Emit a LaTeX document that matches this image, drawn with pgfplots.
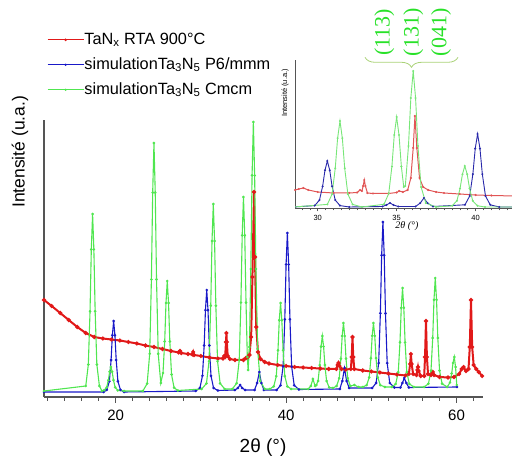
\documentclass[border=0pt]{standalone}
\usepackage{pgfplots}
\pgfplotsset{compat=1.18}
\usepackage{fontspec}
\setmainfont{Liberation Sans}
\newfontfamily\seriffont{Liberation Serif}
\usetikzlibrary{decorations.pathreplacing}
\definecolor{cred}{RGB}{225,25,25}
\definecolor{cblue}{RGB}{25,25,200}
\definecolor{cgreen}{RGB}{80,230,80}
\definecolor{ired}{RGB}{225,85,85}
\definecolor{iblue}{RGB}{40,40,170}
\definecolor{igreen}{RGB}{120,230,120}
\definecolor{axisgray}{RGB}{85,85,85}
\definecolor{annot}{RGB}{40,225,40}
\definecolor{bracec}{RGB}{170,210,120}
\begin{document}
\begin{tikzpicture}
\useasboundingbox (0,0) rectangle (512pt,458pt);
\begin{axis}[
  at={(44pt,61pt)}, anchor=south west,
  scale only axis, width=439pt, height=277pt,
  xmin=11.6, xmax=63.1, ymin=0, ymax=277,
  axis lines=left, axis line style={-, draw=axisgray, line width=1.1pt},
  ytick=\empty,
  xtick={20,40,60}, minor xtick={12,14,...,62},
  tick align=outside, major tick length=6pt, minor tick length=4pt,
  every tick/.style={axisgray, line width=0.8pt},
  tick label style={font=\fontsize{15}{18}\selectfont},
  xticklabel style={yshift=-3pt},
  /pgf/number format/assume math mode=true,
  xlabel={2θ (°)},
  xlabel style={font=\fontsize{19}{22}\selectfont, at={(axis description cs:0.499,-0.184)}, anchor=center},
  ylabel={Intensité (u.a.)},
  ylabel style={font=\fontsize{17.5}{20}\selectfont, at={(axis description cs:-0.0547,0.885)}, anchor=center},
  legend style={draw=none, fill=none, at={(axis description cs:0,1.329)}, anchor=north west,
    font=\fontsize{16.3}{19}\selectfont, row sep=7.5pt,
    nodes={inner sep=0.5pt, text height=12.5pt, text depth=4pt},
    /tikz/column 2/.style={column sep=0pt}},
  legend cell align=left,
  legend image code/.code={\draw[mark repeat=2, mark phase=2] plot coordinates {(0pt,0pt) (18pt,0pt) (36pt,0pt)};},
]
\addplot[cred, line width=2pt, mark=*, mark size=0.9pt, legend image post style={line width=0.8pt}] coordinates {
(11.6,97) (12.5,91) (13.5,84) (14.5,77) (15.5,70) (16.5,64) (17.5,60) (18.5,58.5) (19.5,57.5) (20.5,56.5) (21.5,55) (22.5,53.5) (23.5,51.5) (24.5,50) (25.5,48) (26.5,46) (27.4,44.5) (27.55,46) (27.7,44) (28.5,43) (29.0,42.5) (29.1,45) (29.2,42) (30,41) (31,39.5) (32,38.5) (32.6,38.5) (32.75,41) (32.85,40) (32.95,55) (33.0,64) (33.05,55) (33.15,41) (33.4,38) (34,37) (35,37) (35.3,39) (35.5,40) (35.7,42) (35.9,60) (36.05,120) (36.24,205) (36.35,140) (36.5,70) (36.7,45) (37,38) (37.5,35) (38,33.5) (39,32) (40,31) (41,30) (42,29.5) (43,29) (44,28.5) (45,28) (45.9,28) (46.05,32) (46.15,34) (46.25,31) (46.5,28) (47,27.5) (47.6,28) (47.7,40) (47.79,60) (47.88,40) (48,28) (49,26.5) (50,25.5) (51,24.5) (52,23.5) (53,22.5) (54,21.5) (54.4,23) (54.55,33) (54.64,43) (54.73,33) (54.9,23) (55.3,22) (55.4,27) (55.47,30) (55.55,26) (55.8,21) (56.2,21) (56.3,40) (56.41,76) (56.52,40) (56.65,23) (57,22) (57.2,25) (57.35,22) (58,20) (59,19.5) (59.7,20) (60.3,23) (60.6,28) (60.82,30) (61.1,26) (61.4,28) (61.55,50) (61.69,97) (61.83,50) (62.0,32) (62.3,28) (62.6,25) (63,21)
};
\addlegendentry{TaN\textsubscript{x} RTA 900°C}
\addplot[cblue, line width=1.1pt, mark=*, mark size=0.7pt, legend image post style={line width=0.8pt}] coordinates {
(11.6,5) (18.6,5) (18.97,7.1) (19.27,15.7) (19.47,37) (19.62,61.8) (19.77,76) (19.92,61.8) (20.07,37) (20.27,15.7) (20.57,7.1) (21,5) (29.4,6) (29.89,9) (30.19,21.2) (30.39,51.5) (30.54,86.8) (30.69,107) (30.84,86.8) (30.99,51.5) (31.19,21.2) (31.49,9) (32,6.5) (34.0,7) (34.35,9) (34.6,12) (34.85,9) (35.2,7) (36.3,7) (36.6,14) (36.86,25) (37.1,14) (37.4,7) (38.9,7) (39.35,11.7) (39.65,30.6) (39.85,77.7) (40.0,132.6) (40.15,164) (40.3,132.6) (40.45,77.7) (40.65,30.6) (40.95,11.7) (41.5,7.5) (46.3,8) (46.6,16) (46.85,29) (47.1,16) (47.4,9) (50.1,9) (50.56,14) (50.86,33.9) (51.06,83.7) (51.21,141.8) (51.36,175) (51.51,141.8) (51.66,83.7) (51.86,33.9) (52.16,14) (52.7,9.5) (53.4,9.5) (53.65,14) (53.86,19) (54.1,14) (54.4,9.5) (60.05,10)
};
\addlegendentry{simulationTa\textsubscript{3}N\textsubscript{5} P6/mmm}
\addplot[cgreen, line width=1.1pt, mark=*, mark size=0.7pt, legend image post style={line width=0.8pt}] coordinates {
(11.6,6) (16.5,11) (16.8,32.5) (17.0,85.7) (17.15,147.6) (17.3,183) (17.45,147.6) (17.6,85.7) (17.8,32.5) (18.1,11) (18.4,6) (18.65,6.7) (18.95,9.6) (19.15,16.8) (19.3,25.2) (19.45,30) (19.6,25.2) (19.75,16.8) (19.95,9.6) (20.25,6.7) (21,6) (23.2,6) (23.7,13.4) (24.0,43.2) (24.2,117.6) (24.35,204.4) (24.5,254) (24.65,204.4) (24.8,117.6) (25.0,43.2) (25.3,14) (25.56,24) (25.76,55.5) (25.91,94) (26.06,116) (26.21,94) (26.36,55.5) (26.56,22.5) (26.86,9.3) (27.3,6.5) (30.1,8) (30.66,13.6) (30.96,35.8) (31.16,91.3) (31.31,156) (31.46,193) (31.61,156) (31.76,91.3) (31.96,35.8) (32.26,13.6) (32.8,8) (33.7,8) (34.2,13.8) (34.5,36.8) (34.7,94.4) (34.85,161.6) (35.0,200) (35.15,161.6) (35.3,94.4) (35.45,40) (35.55,27) (35.7,50) (35.86,128) (36.01,221.6) (36.16,275) (36.31,221.6) (36.46,128) (36.66,48) (36.96,16) (37.5,8) (38.1,8) (38.55,10.6) (38.85,20.9) (39.05,46.7) (39.2,76.8) (39.35,94) (39.5,76.8) (39.65,46.7) (39.85,20.9) (40.15,10.6) (40.6,8) (42.6,8) (42.9,11) (43.15,18) (43.4,11) (43.55,12) (43.75,16) (43.95,31.9) (44.1,50.4) (44.25,61) (44.4,50.4) (44.55,31.9) (44.75,16) (45.05,9.6) (45.5,9) (45.93,11) (46.23,18.8) (46.43,38.3) (46.58,61) (46.73,74) (46.88,61) (47.03,38.3) (47.23,18.8) (47.53,11) (48.0,12) (48.5,10) (49.0,10) (49.45,11.9) (49.75,19.6) (49.95,38.8) (50.1,61.2) (50.25,74) (50.4,61.2) (50.55,38.8) (50.75,19.6) (51.05,11.9) (51.6,10) (52.4,10) (52.86,13) (53.16,24.9) (53.36,54.6) (53.51,89.2) (53.66,109) (53.81,89.2) (53.96,54.6) (54.16,24.9) (54.46,13) (55,10) (56.2,10) (56.7,13.3) (57.0,26.4) (57.2,59) (57.35,97.2) (57.5,119) (57.65,97.2) (57.8,59) (58.0,26.4) (58.3,13.3) (58.9,10) (59.23,14.5) (59.43,23.5) (59.58,34) (59.73,40) (59.88,30) (60.02,12)
};
\addlegendentry{simulationTa\textsubscript{3}N\textsubscript{5} Cmcm}
\end{axis}
% inset
\begin{axis}[
  at={(295pt,250pt)}, anchor=south west,
  scale only axis, width=220pt, height=148pt,
  xmin=28.56, xmax=42.5, ymin=0, ymax=148,
  axis lines=left, axis line style={-, draw=axisgray, line width=0.8pt},
  ytick=\empty,
  xtick={30,35,40}, minor xtick={29,29.5,...,42.5},
  tick align=outside, major tick length=3.5pt, minor tick length=2.5pt,
  every tick/.style={axisgray, line width=0.5pt},
  tick label style={font=\fontsize{7.5}{9}\selectfont},
  /pgf/number format/assume math mode=true,
  xlabel={\seriffont\itshape 2θ (°)},
  xlabel style={font=\fontsize{10}{12}\selectfont, at={(axis description cs:0.509,-0.125)}, anchor=center},
  ylabel={Intensité (u.a.)},
  ylabel style={font=\fontsize{7.5}{9}\selectfont, at={(axis description cs:-0.045,0.777)}, anchor=center},
]
\addplot[ired, line width=1pt, mark=*, mark size=0.5pt] coordinates {
(28.56,18) (28.8,19) (29.09,20) (29.4,18) (30,16) (31,15) (32,15) (32.5,15.5) (32.68,18) (32.8,17) (32.88,22) (32.95,28) (33.02,22) (33.15,15) (33.5,14.5) (34.5,14.5) (35.0,15.5) (35.16,17) (35.4,16) (35.7,18) (35.9,30) (36.05,60) (36.16,92) (36.28,60) (36.45,30) (36.68,21) (37,18) (37.5,16) (38,15) (39,14) (40,13) (41,12.5) (42.5,12)
};
\addplot[iblue, line width=0.9pt, mark=*, mark size=0.5pt] coordinates {
(28.5,1) (29.81,2.4) (30.11,7.9) (30.31,21.7) (30.46,37.8) (30.61,47) (30.76,37.8) (30.91,21.7) (31.11,7.9) (31.41,2.4) (32,1) (34.1,1.5) (34.35,3) (34.58,5) (34.8,3) (35.1,1.5) (36.2,1.5) (36.5,5) (36.73,10) (36.95,5) (37.3,1.5) (39.33,3.2) (39.63,12) (39.83,33.9) (39.98,59.4) (40.13,74) (40.28,59.4) (40.43,33.9) (40.63,12) (40.93,3.2) (41.5,1) (42.5,1)
};
\addplot[igreen, line width=0.9pt, mark=*, mark size=0.5pt] coordinates {
(28.5,1) (30.61,3.6) (30.91,13.9) (31.11,39.7) (31.26,69.8) (31.41,87) (31.56,69.8) (31.71,39.7) (31.91,13.9) (32.21,3.6) (32.8,1) (34.2,3.7) (34.5,14.5) (34.7,41.5) (34.85,73) (35.0,91) (35.15,73) (35.3,41.5) (35.45,21) (35.55,22) (35.75,62) (35.9,110) (36.05,137) (36.2,110) (36.35,62) (36.55,21) (36.85,5) (37.5,1) (38.52,2.2) (38.82,7.2) (39.02,19.5) (39.17,33.8) (39.32,42) (39.47,33.8) (39.62,19.5) (39.82,7.2) (40.12,2.2) (40.6,1) (42.5,1)
};
\end{axis}
% annotation
\draw[bracec, line width=0.8pt, decorate, decoration={brace, amplitude=10pt, aspect=0.5}] (458pt,400.7pt) -- (365pt,400.7pt);
\begin{scope}[every node/.style={rotate=90, text=annot, font=\seriffont\fontsize{22}{24}\selectfont, inner sep=0pt}]
\node at (384.3pt,425.5pt) {(113)};
\node at (413.3pt,425.5pt) {(131)};
\node at (441pt,425.5pt) {(041)};
\end{scope}
\end{tikzpicture}
\end{document}
